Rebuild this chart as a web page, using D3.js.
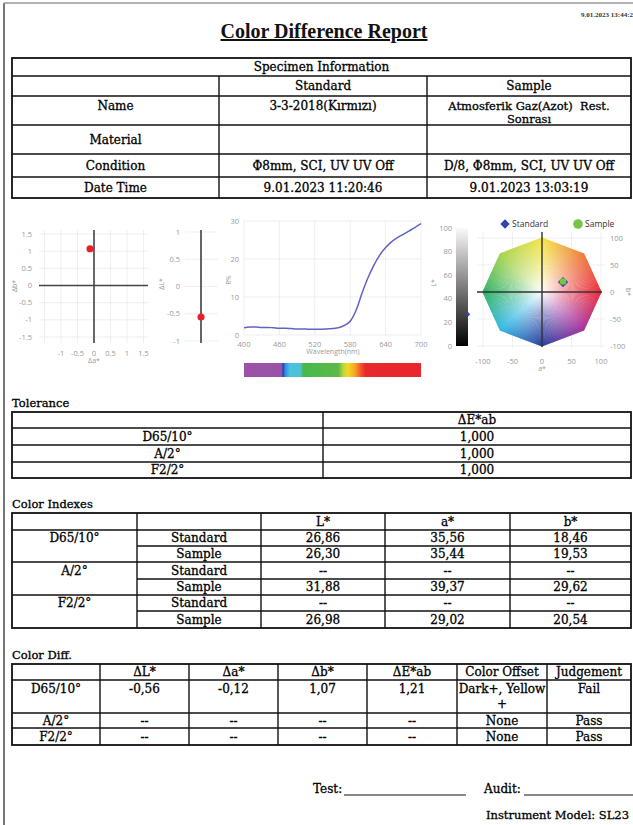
<!DOCTYPE html>
<html>
<head>
<meta charset="utf-8">
<script src="https://cdn.jsdelivr.net/npm/d3@7"></script>
<style>
  body { margin: 0; background: #fff; }
  svg { display: block; }
  text { white-space: pre; }
</style>
</head>
<body>
<div class="canvas"></div>
<script>
// ---------- report values ----------
const reportTime = '9.01.2023 13:44:2';
const specHeader = ['', 'Standard', 'Sample'];
const specRows = [
  ['Name', '3-3-2018(Kırmızı)', 'Atmosferik Gaz(Azot)  Rest.|Sonrası'],
  ['Material', '', ''],
  ['Condition', 'Φ8mm, SCI, UV UV Off', 'D/8, Φ8mm, SCI, UV UV Off'],
  ['Date Time', '9.01.2023 11:20:46', '9.01.2023 13:03:19']
];
const illuminants = ['D65/10°', 'A/2°', 'F2/2°'];
const toleranceValues = ['1,000', '1,000', '1,000'];
const indexCols = ['L*', 'a*', 'b*'];
const indexKinds = ['Standard', 'Sample'];
const indexValues = [
  [['26,86', '35,56', '18,46'], ['26,30', '35,44', '19,53']],
  [['--', '--', '--'], ['31,88', '39,37', '29,62']],
  [['--', '--', '--'], ['26,98', '29,02', '20,54']]
];
const diffCols = ['ΔL*', 'Δa*', 'Δb*', 'ΔE*ab', 'Color Offset', 'Judgement'];
const diffValues = [
  ['-0,56', '-0,12', '1,07', '1,21', 'Dark+, Yellow|+', 'Fail'],
  ['--', '--', '--', '--', 'None', 'Pass'],
  ['--', '--', '--', '--', 'None', 'Pass']
];

// ---------- chart values ----------
const deltaL = -0.56, deltaA = -0.12, deltaB = 1.07;
const abTicks = [-1.5, -1, -0.5, 0, 0.5, 1, 1.5];
const abXTicks = [-1, -0.5, 0, 0.5, 1, 1.5];
const lTicks = [-1, -0.5, 0, 0.5, 1];
const wavelengths = [400, 410, 420, 430, 440, 450, 460, 470, 480, 490, 500, 510, 520, 530, 540, 550,
  560, 570, 580, 590, 600, 610, 620, 630, 640, 650, 660, 670, 680, 690, 700];
const reflectance = [1.9, 2.1, 2.1, 2.0, 2.0, 1.9, 1.8, 1.8, 1.7, 1.6, 1.6, 1.5, 1.5, 1.5, 1.6, 1.7,
  1.9, 2.5, 3.6, 6.5, 11.0, 15.0, 18.3, 21.0, 23.0, 24.5, 25.6, 26.5, 27.4, 28.3, 29.3];
const waveTicks = [400, 460, 520, 580, 640, 700];
const rTicks = [0, 10, 20, 30];
const labTicks = [-100, -50, 0, 50, 100];
const lightTicks = [0, 20, 40, 60, 80, 100];
const standardLab = {L: 26.86, a: 35.56, b: 18.46};
const sampleLab = {L: 26.30, a: 35.44, b: 19.53};

const serif = '"DejaVu Serif", serif';
const titleSerif = '"Liberation Serif", "Times New Roman", serif';
const sans = '"Open Sans", "DejaVu Sans", sans-serif';

const svg = d3.select('.canvas')
  .append('svg')
  .attr('width', 633)
  .attr('height', 825);

const defs = svg.append('defs');

// page frame
svg.append('line').attr('x1', 4).attr('y1', 3).attr('x2', 4).attr('y2', 825)
  .attr('stroke', '#777').attr('stroke-width', 2);
svg.append('line').attr('x1', 4).attr('y1', 3).attr('x2', 633).attr('y2', 3)
  .attr('stroke', '#999').attr('stroke-width', 1.5);

// helpers
const line = (g, x1, y1, x2, y2, w = 1.4, c = '#111') =>
  g.append('line').attr('x1', x1).attr('y1', y1).attr('x2', x2).attr('y2', y2)
    .attr('stroke', c).attr('stroke-width', w);

const label = (g, x, y, s, anchor = 'middle', size = 12) =>
  g.append('text').attr('x', x).attr('y', y).attr('dy', '0.35em')
    .attr('text-anchor', anchor)
    .attr('font-family', serif).attr('font-size', size)
    .attr('fill', '#000').attr('stroke', '#000').attr('stroke-width', 0.3)
    .text(s);

const frame = (g, cols, rows) => {
  g.append('rect')
    .attr('x', cols[0]).attr('y', rows[0])
    .attr('width', cols[cols.length - 1] - cols[0])
    .attr('height', rows[rows.length - 1] - rows[0])
    .attr('fill', 'none').attr('stroke', '#111').attr('stroke-width', 1.8);
};

const diamond = size => d3.symbol(d3.symbolSquare, size)();

// ---------- title ----------
svg.append('text').attr('x', 324).attr('y', 38)
  .attr('text-anchor', 'middle')
  .attr('font-family', titleSerif).attr('font-size', 20).attr('font-weight', 'bold')
  .attr('text-decoration', 'underline')
  .attr('fill', '#111').text('Color Difference Report');
svg.append('text').attr('x', 633).attr('y', 17)
  .attr('text-anchor', 'end')
  .attr('font-family', titleSerif).attr('font-size', 7).attr('font-weight', 'bold')
  .attr('fill', '#333').text(reportTime);

// ---------- specimen table ----------
{
  const g = svg.append('g');
  const cols = [12, 219, 427, 631];
  const rows = [58, 76, 96, 125, 154, 177, 198];
  frame(g, cols, rows);
  rows.slice(1, -1).forEach(y => line(g, cols[0], y, cols[3], y));
  [cols[1], cols[2]].forEach(x => line(g, x, rows[1], x, rows[6]));
  label(g, (cols[0] + cols[3]) / 2, (rows[0] + rows[1]) / 2, 'Specimen Information');
  specHeader.forEach((h, i) => label(g, (cols[i] + cols[i + 1]) / 2, (rows[1] + rows[2]) / 2, h));
  specRows.forEach((r, ri) => {
    const top = rows[ri + 2], bot = rows[ri + 3];
    r.forEach((cell, ci) => {
      const cx = (cols[ci] + cols[ci + 1]) / 2;
      if (ri === 0) {
        const parts = cell.split('|');
        parts.forEach((part, k) =>
          label(g, cx, top + 9.5 + k * 13.5, part, 'middle', parts.length > 1 ? 11.5 : 12));
      } else {
        label(g, cx, (top + bot) / 2, cell);
      }
    });
  });
}

// ---------- chart 1 : Δa* Δb* ----------
{
  const g = svg.append('g');
  const x = d3.scaleLinear().domain([-1.5, 1.5]).range([44.5, 143.5]);
  const y = d3.scaleLinear().domain([-1.5, 1.5]).range([337, 234]);
  abTicks.forEach(t => {
    line(g, x(t), 230, x(t), 343, 0.6, '#e4e4e4');
    line(g, 39, y(t), 148, y(t), 0.6, '#e4e4e4');
  });
  line(g, 39, y(0), 148, y(0), 1.6, '#444');
  line(g, x(0), 230, x(0), 343, 1.6, '#444');
  abTicks.forEach(t => {
    g.append('text').attr('x', 32).attr('y', y(t)).attr('dy', '0.35em')
      .attr('text-anchor', 'end').attr('font-family', sans).attr('font-size', 7.5)
      .attr('fill', '#999').text(t);
  });
  abXTicks.forEach(t => {
    g.append('text').attr('x', x(t)).attr('y', 353).attr('dy', '0.35em')
      .attr('text-anchor', 'middle').attr('font-family', sans).attr('font-size', 7.5)
      .attr('fill', '#999').text(t);
  });
  g.append('text').attr('x', x(0)).attr('y', 361).attr('dy', '0.35em')
    .attr('text-anchor', 'middle').attr('font-family', sans).attr('font-size', 7)
    .attr('fill', '#999').text('Δa*');
  g.append('text').attr('transform', 'translate(15,286) rotate(-90)')
    .attr('dy', '0.35em').attr('text-anchor', 'middle').attr('font-family', sans)
    .attr('font-size', 7).attr('fill', '#999').text('Δb*');
  g.append('circle').attr('cx', x(deltaA)).attr('cy', y(deltaB)).attr('r', 3.6)
    .attr('fill', '#e8202a');
}

// ---------- chart 2 : ΔL* ----------
{
  const g = svg.append('g');
  const y = d3.scaleLinear().domain([-1, 1]).range([341, 232]);
  lTicks.forEach(t => line(g, 185, y(t), 218, y(t), 0.6, '#e4e4e4'));
  line(g, 201, 230, 201, 343, 1.8, '#555');
  lTicks.forEach(t => {
    g.append('text').attr('x', 180).attr('y', y(t)).attr('dy', '0.35em')
      .attr('text-anchor', 'end').attr('font-family', sans).attr('font-size', 7.5)
      .attr('fill', '#999').text(t);
  });
  g.append('text').attr('transform', 'translate(162,284) rotate(-90)')
    .attr('dy', '0.35em').attr('text-anchor', 'middle').attr('font-family', sans)
    .attr('font-size', 7).attr('fill', '#999').text('ΔL*');
  g.append('circle').attr('cx', 201).attr('cy', y(deltaL)).attr('r', 3.6)
    .attr('fill', '#e8202a');
}

// ---------- chart 3 : reflectance curve ----------
{
  const g = svg.append('g');
  const x = d3.scaleLinear().domain([400, 700]).range([244, 421]);
  const y = d3.scaleLinear().domain([0, 30]).range([335, 221]);
  waveTicks.forEach(t => line(g, x(t), y(30), x(t), y(0), 0.6, '#e2e2e2'));
  rTicks.forEach(t => line(g, x(400), y(t), x(700), y(t), 0.6, '#e2e2e2'));
  rTicks.forEach(t => {
    g.append('text').attr('x', 239).attr('y', y(t)).attr('dy', '0.35em')
      .attr('text-anchor', 'end').attr('font-family', sans).attr('font-size', 7.5)
      .attr('fill', '#999').text(t);
  });
  waveTicks.forEach(t => {
    g.append('text').attr('x', x(t)).attr('y', 344).attr('dy', '0.35em')
      .attr('text-anchor', 'middle').attr('font-family', sans).attr('font-size', 7.5)
      .attr('fill', '#999').text(t);
  });
  g.append('text').attr('x', 333).attr('y', 352).attr('dy', '0.35em')
    .attr('text-anchor', 'middle').attr('font-family', sans).attr('font-size', 7)
    .attr('fill', '#999').text('Wavelength(nm)');
  g.append('text').attr('transform', 'translate(229,280) rotate(-90)')
    .attr('dy', '0.35em').attr('text-anchor', 'middle').attr('font-family', sans)
    .attr('font-size', 6.5).attr('fill', '#999').text('R%');

  const curve = d3.line()
    .x((d, i) => x(wavelengths[i]))
    .y(d => y(d))
    .curve(d3.curveMonotoneX);
  g.append('path').datum(reflectance)
    .attr('d', curve).attr('fill', 'none')
    .attr('stroke', '#6262c6').attr('stroke-width', 1.5);

  // visible spectrum strip
  const spectrum = [[400, '#9c52a6'], [464, '#9a52a8'], [466, '#1c3fbf'], [470, '#2f8fdc'],
    [478, '#4cc2e0'], [496, '#4cc2d4'], [500, '#48b84c'], [560, '#5cb848'], [568, '#b8d838'],
    [576, '#f4d625'], [588, '#f6a623'], [598, '#f0562a'], [606, '#e8282c'], [700, '#e8262b']];
  const grad = defs.append('linearGradient').attr('id', 'spectrum');
  spectrum.forEach(([w, c]) => grad.append('stop')
    .attr('offset', (w - 400) / 300).attr('stop-color', c));
  g.append('rect').attr('x', x(400)).attr('y', 363)
    .attr('width', x(700) - x(400)).attr('height', 14)
    .attr('fill', 'url(#spectrum)');
}

// ---------- chart 4 : L* bar and a*b* wheel ----------
{
  const g = svg.append('g');
  const lY = d3.scaleLinear().domain([0, 100]).range([346, 228]);
  const lg = defs.append('linearGradient').attr('id', 'lightness')
    .attr('x1', 0).attr('y1', 0).attr('x2', 0).attr('y2', 1);
  lg.append('stop').attr('offset', 0).attr('stop-color', '#fafafa');
  lg.append('stop').attr('offset', 1).attr('stop-color', '#000');
  g.append('rect').attr('x', 456).attr('y', lY(100)).attr('width', 12)
    .attr('height', lY(0) - lY(100)).attr('fill', 'url(#lightness)');
  lightTicks.forEach(t => {
    g.append('text').attr('x', 452).attr('y', lY(t)).attr('dy', '0.35em')
      .attr('text-anchor', 'end').attr('font-family', sans).attr('font-size', 7.5)
      .attr('fill', '#999').text(t);
  });
  g.append('text').attr('transform', 'translate(434,283) rotate(-90)')
    .attr('dy', '0.35em').attr('text-anchor', 'middle').attr('font-family', sans)
    .attr('font-size', 7).attr('fill', '#999').text('L*');
  g.append('path').attr('d', diamond(10))
    .attr('transform', `translate(468,${lY(standardLab.L)}) rotate(45)`).attr('fill', '#2c48b0');

  const a = d3.scaleLinear().domain([-100, 100]).range([483, 601]);
  const b = d3.scaleLinear().domain([-100, 100]).range([346, 238]);
  labTicks.forEach(t => {
    line(g, a(t), 232, a(t), 348, 0.6, '#e6e6e6');
    line(g, 477, b(t), 605, b(t), 0.6, '#e6e6e6');
  });

  const octagon = d3.range(8).map(k => {
    const ang = k * Math.PI / 4;
    return [a(101 * Math.cos(ang)), b(101 * Math.sin(ang))];
  });
  defs.append('clipPath').attr('id', 'octClip')
    .append('polygon').attr('points', octagon.map(p => p.join(',')).join(' '));

  const hueStops = [[0, '#e8283a'], [45, '#f07a3c'], [90, '#f3e445'], [135, '#a6d34c'],
    [180, '#2db163'], [225, '#32b8e6'], [270, '#2a3b9e'], [315, '#a22f9d'], [360, '#e8283a']];
  const hue = d3.scaleLinear().domain(hueStops.map(d => d[0]))
    .range(hueStops.map(d => d[1])).interpolate(d3.interpolateRgb);
  const wheel = g.append('g').attr('clip-path', 'url(#octClip)');
  d3.range(0, 360, 2).forEach(deg => {
    const p = d => [a(130 * Math.cos(d * Math.PI / 180)), b(130 * Math.sin(d * Math.PI / 180))];
    const pts = [[a(0), b(0)], p(deg - 1.3), p(deg + 1.3)];
    wheel.append('polygon').attr('points', pts.map(q => q.join(',')).join(' '))
      .attr('fill', hue(deg));
  });
  const rg = defs.append('radialGradient').attr('id', 'wheelFade');
  rg.append('stop').attr('offset', 0).attr('stop-color', '#fff').attr('stop-opacity', 0.95);
  rg.append('stop').attr('offset', 0.35).attr('stop-color', '#fff').attr('stop-opacity', 0.55);
  rg.append('stop').attr('offset', 1).attr('stop-color', '#fff').attr('stop-opacity', 0);
  wheel.append('rect').attr('x', a(-100)).attr('y', b(100))
    .attr('width', a(100) - a(-100)).attr('height', b(-100) - b(100))
    .attr('fill', 'url(#wheelFade)');

  line(g, a(0), 232, a(0), 347, 1.4, '#333');
  line(g, 477, b(0), 602, b(0), 1.4, '#333');

  labTicks.forEach(t => {
    g.append('text').attr('x', 610).attr('y', b(t)).attr('dy', '0.35em')
      .attr('text-anchor', 'start').attr('font-family', sans).attr('font-size', 7.5)
      .attr('fill', '#999').text(t);
    g.append('text').attr('x', a(t)).attr('y', 361).attr('dy', '0.35em')
      .attr('text-anchor', 'middle').attr('font-family', sans).attr('font-size', 7.5)
      .attr('fill', '#999').text(t);
  });
  g.append('text').attr('x', a(0)).attr('y', 369).attr('dy', '0.35em')
    .attr('text-anchor', 'middle').attr('font-family', sans).attr('font-size', 7)
    .attr('fill', '#999').text('a*');
  g.append('text').attr('transform', 'translate(628,292) rotate(90)')
    .attr('dy', '0.35em').attr('text-anchor', 'middle').attr('font-family', sans)
    .attr('font-size', 7).attr('fill', '#999').text('b*');

  g.append('path').attr('d', diamond(52))
    .attr('transform', `translate(${a(standardLab.a)},${b(standardLab.b)}) rotate(45)`)
    .attr('fill', '#2c48b0');
  g.append('circle').attr('cx', a(sampleLab.a)).attr('cy', b(sampleLab.b)).attr('r', 3.3)
    .attr('fill', '#78c443');

  // legend
  g.append('path').attr('d', diamond(44))
    .attr('transform', 'translate(505,224) rotate(45)').attr('fill', '#2c48b0');
  g.append('text').attr('x', 512).attr('y', 224).attr('dy', '0.35em')
    .attr('font-family', sans).attr('font-size', 8.5).attr('fill', '#333').text('Standard');
  g.append('circle').attr('cx', 578).attr('cy', 224).attr('r', 4.8).attr('fill', '#78c443');
  g.append('text').attr('x', 585).attr('y', 224).attr('dy', '0.35em')
    .attr('font-family', sans).attr('font-size', 8.5).attr('fill', '#333').text('Sample');
}

// ---------- tolerance table ----------
{
  const g = svg.append('g');
  label(g, 12, 403, 'Tolerance', 'start', 11.5);
  const cols = [12, 323, 631];
  const rows = [412, 428, 445, 462, 478];
  frame(g, cols, rows);
  rows.slice(1, -1).forEach(y => line(g, cols[0], y, cols[2], y));
  line(g, cols[1], rows[0], cols[1], rows[4]);
  label(g, (cols[1] + cols[2]) / 2, (rows[0] + rows[1]) / 2, 'ΔE*ab');
  illuminants.forEach((ill, i) => {
    const cy = (rows[i + 1] + rows[i + 2]) / 2;
    label(g, (cols[0] + cols[1]) / 2, cy, ill);
    label(g, (cols[1] + cols[2]) / 2, cy, toleranceValues[i]);
  });
}

// ---------- color indexes table ----------
{
  const g = svg.append('g');
  label(g, 12, 504, 'Color Indexes', 'start', 11.5);
  const cols = [12, 137, 261, 385, 510, 631];
  const rows = [513, 530, 546, 562, 579, 595, 611, 628];
  frame(g, cols, rows);
  rows.slice(1, -1).forEach((y, i) => line(g, i % 2 === 0 ? cols[0] : cols[1], y, cols[5], y));
  cols.slice(1, -1).forEach(x => line(g, x, rows[0], x, rows[7]));
  indexCols.forEach((c, i) => label(g, (cols[i + 2] + cols[i + 3]) / 2, (rows[0] + rows[1]) / 2, c));
  illuminants.forEach((ill, i) => {
    label(g, (cols[0] + cols[1]) / 2, (rows[1 + i * 2] + rows[2 + i * 2]) / 2, ill);
    indexKinds.forEach((kind, k) => {
      const r = 1 + i * 2 + k;
      const cy = (rows[r] + rows[r + 1]) / 2;
      label(g, (cols[1] + cols[2]) / 2, cy, kind);
      indexValues[i][k].forEach((v, j) => label(g, (cols[j + 2] + cols[j + 3]) / 2, cy, v));
    });
  });
}

// ---------- color diff table ----------
{
  const g = svg.append('g');
  label(g, 12, 655, 'Color Diff.', 'start', 11.5);
  const cols = [12, 100, 189, 278, 367, 457, 547, 631];
  const rows = [664, 680, 713, 728, 745];
  frame(g, cols, rows);
  rows.slice(1, -1).forEach(y => line(g, cols[0], y, cols[7], y));
  cols.slice(1, -1).forEach(x => line(g, x, rows[0], x, rows[4]));
  diffCols.forEach((c, i) => label(g, (cols[i + 1] + cols[i + 2]) / 2, (rows[0] + rows[1]) / 2, c));
  illuminants.forEach((ill, i) => {
    const top = rows[i + 1], bot = rows[i + 2];
    const cy = i === 0 ? top + 8.5 : (top + bot) / 2;
    label(g, (cols[0] + cols[1]) / 2, cy, ill);
    diffValues[i].forEach((v, j) => {
      v.split('|').forEach((part, k) =>
        label(g, (cols[j + 1] + cols[j + 2]) / 2, cy + k * 15, part));
    });
  });
}

// ---------- footer ----------
{
  const g = svg.append('g');
  label(g, 313, 789, 'Test:', 'start', 12);
  line(g, 344, 795, 466, 795, 1, '#111');
  label(g, 484, 789, 'Audit:', 'start', 12);
  line(g, 524, 795, 633, 795, 1, '#111');
  label(g, 486, 815, 'Instrument Model: SL23', 'start', 11.5);
}
</script>
</body>
</html>
